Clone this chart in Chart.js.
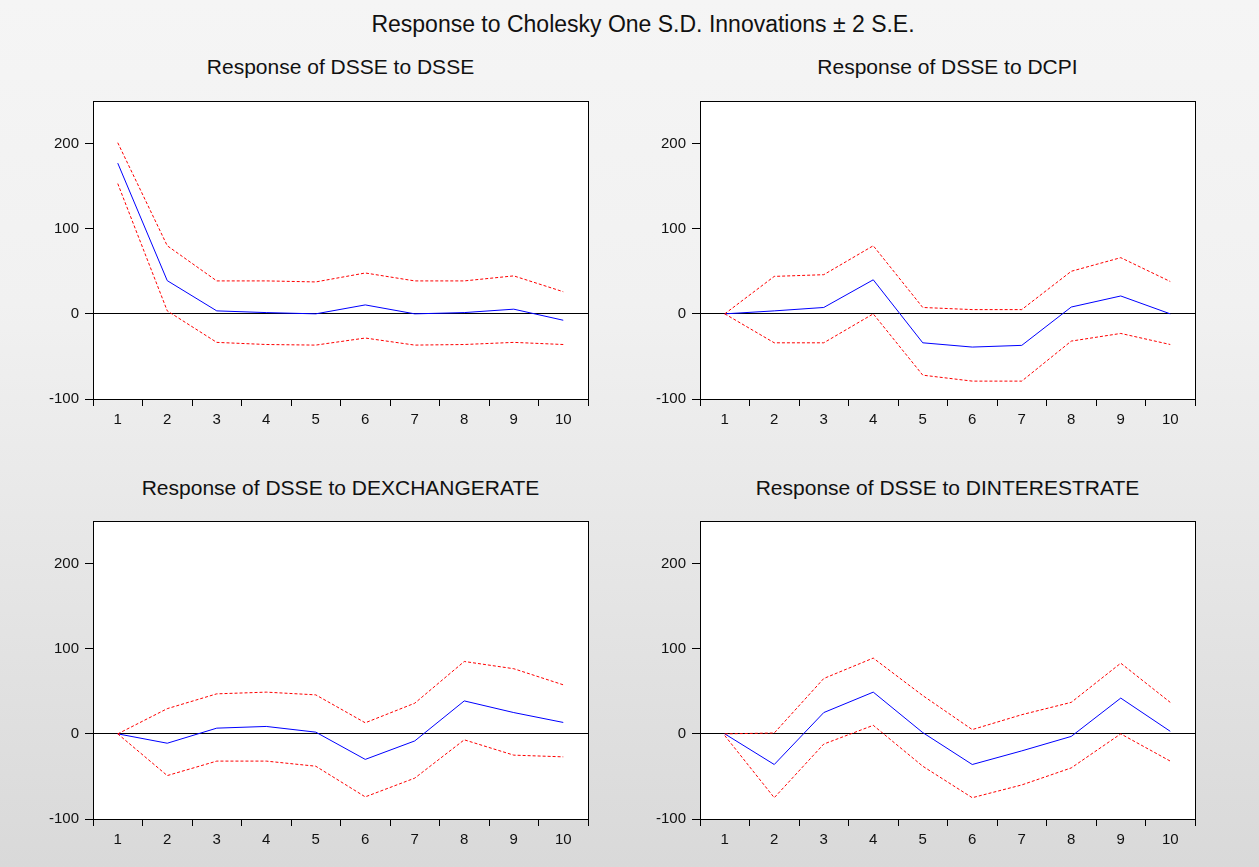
<!DOCTYPE html>
<html>
<head>
<meta charset="utf-8">
<script src="https://cdn.jsdelivr.net/npm/chart.js@4/dist/chart.umd.min.js"></script>
<style>
  html, body { margin: 0; padding: 0; }
  body {
    width: 1259px; height: 867px; position: relative; overflow: hidden;
    background: linear-gradient(#f5f5f5 0%, #f1f1f1 35%, #d9d9d9 100%);
    font-family: 'Liberation Sans', Arial, sans-serif;
    color: #111;
  }
  #mainTitle {
    position: absolute; left: 343px; width: 600px; top: 11px;
    text-align: center; font-size: 23px; line-height: 26px; white-space: nowrap;
  }
  .sub {
    position: absolute; width: 495px; text-align: center;
    font-size: 21px; line-height: 24px; white-space: nowrap;
  }
  .panel { position: absolute; width: 580px; height: 400px; }
</style>
</head>
<body>
<div id="mainTitle">Response to Cholesky One S.D. Innovations ± 2 S.E.</div>
<div class="sub" style="left:93px;top:55px">Response of DSSE to DSSE</div>
<div class="sub" style="left:700px;top:55px">Response of DSSE to DCPI</div>
<div class="sub" style="left:93px;top:476px">Response of DSSE to DEXCHANGERATE</div>
<div class="sub" style="left:700px;top:476px">Response of DSSE to DINTERESTRATE</div>
<div class="panel" style="left:30px;top:45px"><canvas id="c1"></canvas></div>
<div class="panel" style="left:637px;top:45px"><canvas id="c2"></canvas></div>
<div class="panel" style="left:30px;top:465px"><canvas id="c3"></canvas></div>
<div class="panel" style="left:637px;top:465px"><canvas id="c4"></canvas></div>
<script>
const periods = ['1', '2', '3', '4', '5', '6', '7', '8', '9', '10'];

// DSSE to DSSE
const sseResp  = [177, 39, 3.5, 1.5, 0, 10.5, 0, 1.5, 5.5, -7.5];
const sseUpper = [201, 80, 38.7, 38.7, 37.5, 48, 38.7, 38.7, 44.6, 26];
const sseLower = [153, 3.5, -33.5, -36, -36.7, -28.4, -36.7, -36, -33.5, -36];

// DSSE to DCPI
const cpiResp  = [0, 3.5, 7.5, 40, -34, -39, -37, 8, 21, 0];
const cpiUpper = [0, 44, 46, 80, 7.5, 5, 5, 50, 66, 38];
const cpiLower = [0, -34, -34, 0, -72, -79, -79, -32, -23, -36];

// DSSE to DEXCHANGERATE
const exResp  = [0, -11, 6.7, 8.7, 2, -30, -8.3, 38.7, 25, 13.4];
const exUpper = [0, 29.6, 47, 49, 45.8, 13, 36, 85, 76.5, 57.6];
const exLower = [0, -49, -32, -32, -38, -74, -52, -7, -25, -27];

// DSSE to DINTERESTRATE
const irResp  = [0, -36, 25, 49, 1.5, -36, -20, -3, 42, 3];
const irUpper = [0, 1, 65, 89, 45, 5, 22.5, 37, 83, 37];
const irLower = [-2, -75, -12, 10, -38, -75, -60, -40, 0, -32];

const fontFamily = "'Liberation Sans', Arial, sans-serif";

// white plot area with a black frame round it
const frame = {
  id: 'frame',
  beforeDraw(chart) {
    const a = chart.chartArea;
    const c = chart.ctx;
    c.save();
    c.fillStyle = '#fff';
    c.fillRect(a.left, a.top, a.right - a.left, a.bottom - a.top);
    c.restore();
  },
  afterDraw(chart) {
    const a = chart.chartArea;
    const c = chart.ctx;
    c.save();
    c.strokeStyle = '#000';
    c.lineWidth = 1;
    c.strokeRect(Math.round(a.left) + 0.5, Math.round(a.top) + 0.5,
                 Math.round(a.right - a.left), Math.round(a.bottom - a.top));
    c.restore();
  }
};

function drawPanel(id, resp, upper, lower) {
  const ctx = document.getElementById(id).getContext('2d');
  const band = (data) => ({
    data: data,
    borderColor: '#ff0000',
    borderWidth: 1,
    borderDash: [3, 2],
    pointRadius: 0,
    fill: false,
    tension: 0
  });
  return new Chart(ctx, {
    type: 'line',
    data: {
      labels: periods,
      datasets: [
        band(upper),
        band(lower),
        {
          data: resp,
          borderColor: '#0000ff',
          borderWidth: 1,
          pointRadius: 0,
          fill: false,
          tension: 0
        }
      ]
    },
    options: {
      responsive: true,
      maintainAspectRatio: false,
      animation: false,
      events: [],
      layout: { padding: { top: 56, left: 13, right: 22, bottom: 16 } },
      plugins: {
        legend: { display: false },
        tooltip: { enabled: false },
        title: { display: false }
      },
      scales: {
        x: {
          offset: true,
          afterFit: s => { s.height = 30; },
          grid: {
            offset: true,
            drawOnChartArea: false,
            drawTicks: true,
            tickLength: 7,
            color: '#000'
          },
          border: { display: true, color: '#000' },
          ticks: {
            color: '#111',
            padding: 5,
            maxRotation: 0,
            font: { family: fontFamily, size: 15 }
          }
        },
        y: {
          min: -100,
          max: 250,
          afterFit: s => { s.width = 50; },
          afterBuildTicks: s => { s.ticks = s.ticks.filter(t => t.value % 100 === 0); },
          grid: {
            color: c => (c.tick && c.tick.value === 0 ? '#000' : 'rgba(0,0,0,0)'),
            tickColor: '#000',
            tickLength: 8,
            lineWidth: 1
          },
          border: { display: true, color: '#000' },
          ticks: {
            stepSize: 100,
            color: '#111',
            padding: 6,
            font: { family: fontFamily, size: 15 }
          }
        }
      }
    },
    plugins: [frame]
  });
}

drawPanel('c1', sseResp, sseUpper, sseLower);
drawPanel('c2', cpiResp, cpiUpper, cpiLower);
drawPanel('c3', exResp, exUpper, exLower);
drawPanel('c4', irResp, irUpper, irLower);
</script>
</body>
</html>
